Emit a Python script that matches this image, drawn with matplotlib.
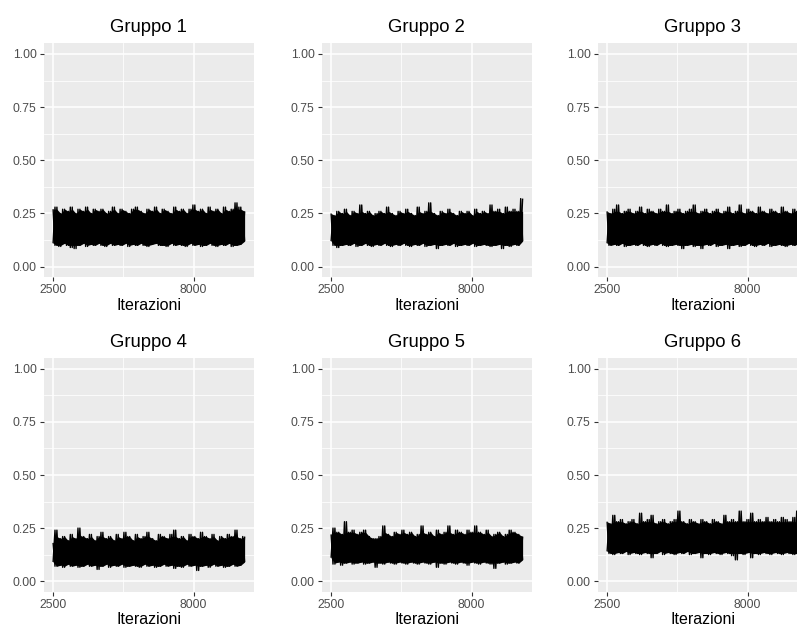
import numpy as np
import matplotlib
matplotlib.use("Agg")
import matplotlib.pyplot as plt

plt.rcParams['font.family'] = ['Liberation Sans', 'DejaVu Sans']

iterations = np.arange(2500, 10001, 150)

groups = ["Gruppo 1", "Gruppo 2", "Gruppo 3", "Gruppo 4", "Gruppo 5", "Gruppo 6"]

# upper / lower envelope of each MCMC trace
upper_1 = [0.27,0.28,0.25,0.27,0.26,0.28,0.25,0.27,0.26,0.28,
           0.25,0.27,0.26,0.27,0.25,0.26,0.28,0.25,0.27,0.26,
           0.25,0.27,0.28,0.26,0.25,0.27,0.26,0.28,0.25,0.27,
           0.26,0.25,0.28,0.26,0.27,0.25,0.27,0.29,0.26,0.27,
           0.25,0.28,0.26,0.27,0.25,0.28,0.26,0.27,0.30,0.28,0.26]
lower_1 = [0.11,0.10,0.095,0.11,0.10,0.09,0.085,0.10,0.11,0.095,
           0.105,0.10,0.11,0.10,0.095,0.11,0.10,0.105,0.10,0.11,
           0.095,0.105,0.10,0.11,0.10,0.095,0.105,0.11,0.10,0.10,
           0.095,0.11,0.10,0.105,0.10,0.095,0.11,0.10,0.105,0.095,
           0.10,0.11,0.10,0.095,0.105,0.10,0.11,0.095,0.10,0.105,0.12]

upper_2 = [0.25,0.24,0.26,0.25,0.27,0.24,0.26,0.25,0.29,0.25,
           0.26,0.24,0.25,0.26,0.25,0.28,0.25,0.24,0.26,0.25,
           0.27,0.25,0.24,0.28,0.25,0.26,0.30,0.25,0.24,0.26,
           0.25,0.27,0.25,0.24,0.26,0.25,0.26,0.24,0.27,0.25,
           0.26,0.25,0.29,0.26,0.27,0.25,0.28,0.26,0.27,0.26,0.32]
lower_2 = [0.12,0.10,0.09,0.10,0.105,0.10,0.11,0.095,0.10,0.11,
           0.10,0.095,0.105,0.10,0.11,0.10,0.095,0.105,0.10,0.11,
           0.10,0.095,0.105,0.10,0.11,0.095,0.10,0.105,0.085,0.10,
           0.105,0.10,0.11,0.095,0.10,0.105,0.10,0.11,0.095,0.10,
           0.105,0.10,0.095,0.10,0.105,0.085,0.10,0.095,0.105,0.10,0.12]

upper_3 = [0.26,0.25,0.27,0.29,0.25,0.26,0.27,0.25,0.26,0.28,
           0.25,0.27,0.26,0.25,0.27,0.26,0.29,0.25,0.26,0.27,
           0.25,0.26,0.27,0.29,0.25,0.26,0.27,0.25,0.26,0.27,
           0.25,0.26,0.28,0.25,0.26,0.29,0.25,0.27,0.26,0.25,
           0.28,0.26,0.25,0.27,0.26,0.25,0.28,0.26,0.25,0.27,0.26]
lower_3 = [0.11,0.10,0.105,0.10,0.11,0.095,0.10,0.105,0.10,0.11,
           0.10,0.095,0.105,0.10,0.11,0.10,0.095,0.10,0.105,0.10,
           0.085,0.10,0.105,0.095,0.10,0.085,0.105,0.10,0.11,0.095,
           0.10,0.105,0.085,0.10,0.105,0.095,0.10,0.11,0.10,0.095,
           0.105,0.10,0.11,0.095,0.10,0.105,0.10,0.095,0.105,0.10,0.11]

upper_4 = [0.18,0.24,0.20,0.21,0.19,0.22,0.20,0.25,0.21,0.20,
           0.22,0.19,0.21,0.23,0.20,0.21,0.19,0.22,0.20,0.23,
           0.21,0.19,0.22,0.20,0.21,0.23,0.20,0.19,0.22,0.21,
           0.20,0.22,0.24,0.20,0.21,0.19,0.22,0.21,0.20,0.23,
           0.21,0.20,0.22,0.19,0.21,0.20,0.22,0.21,0.24,0.20,0.21]
lower_4 = [0.09,0.07,0.075,0.065,0.08,0.07,0.075,0.065,0.07,0.08,
           0.07,0.075,0.055,0.07,0.08,0.065,0.075,0.07,0.08,0.065,
           0.07,0.075,0.07,0.065,0.08,0.07,0.075,0.065,0.07,0.08,
           0.07,0.075,0.06,0.07,0.065,0.08,0.07,0.075,0.05,0.07,
           0.075,0.065,0.08,0.07,0.075,0.065,0.07,0.08,0.07,0.075,0.09]

upper_5 = [0.22,0.25,0.23,0.22,0.28,0.23,0.24,0.22,0.23,0.24,
           0.21,0.20,0.20,0.21,0.26,0.22,0.21,0.23,0.22,0.24,
           0.22,0.23,0.21,0.22,0.26,0.22,0.23,0.21,0.24,0.22,
           0.23,0.26,0.22,0.24,0.23,0.22,0.24,0.23,0.26,0.23,
           0.22,0.24,0.21,0.22,0.23,0.21,0.22,0.24,0.23,0.22,0.21]
lower_5 = [0.11,0.08,0.09,0.075,0.085,0.09,0.08,0.085,0.09,0.08,
           0.085,0.09,0.065,0.085,0.08,0.09,0.085,0.08,0.09,0.085,
           0.08,0.09,0.085,0.08,0.09,0.085,0.08,0.09,0.065,0.085,
           0.08,0.09,0.085,0.08,0.09,0.085,0.075,0.09,0.085,0.08,
           0.09,0.085,0.08,0.06,0.085,0.09,0.08,0.085,0.09,0.085,0.10]

upper_6 = [0.28,0.27,0.31,0.28,0.29,0.27,0.28,0.29,0.27,0.32,
           0.28,0.29,0.31,0.27,0.28,0.29,0.27,0.28,0.29,0.33,
           0.28,0.27,0.29,0.28,0.27,0.29,0.28,0.27,0.29,0.28,
           0.27,0.31,0.28,0.29,0.28,0.33,0.28,0.29,0.32,0.28,
           0.29,0.28,0.30,0.28,0.29,0.28,0.30,0.29,0.28,0.30,0.33]
lower_6 = [0.14,0.13,0.125,0.135,0.13,0.14,0.125,0.135,0.13,0.125,
           0.135,0.13,0.11,0.13,0.14,0.125,0.135,0.13,0.125,0.135,
           0.13,0.14,0.125,0.13,0.135,0.11,0.13,0.125,0.135,0.13,
           0.125,0.135,0.13,0.12,0.10,0.13,0.125,0.135,0.11,0.13,
           0.125,0.135,0.13,0.125,0.135,0.13,0.125,0.135,0.13,0.125,0.13]

uppers = [upper_1, upper_2, upper_3, upper_4, upper_5, upper_6]
lowers = [lower_1, lower_2, lower_3, lower_4, lower_5, lower_6]

y_ticks = [0.0, 0.25, 0.5, 0.75, 1.0]
y_ticklabels = ["0.00", "0.25", "0.50", "0.75", "1.00"]
x_ticks = [2500, 8000]
x_ticklabels = ["2500", "8000"]

W, H = 797, 630
fig = plt.figure(figsize=(W / 100, H / 100), dpi=100)

cols = [(43.5, 254.2), (321.5, 532.2), (597.5, 808.2)]
rows = [(43.3, 277.3), (358.3, 591.7)]

def rect(x0, x1, yt, yb):
    return [x0 / W, 1 - yb / H, (x1 - x0) / W, (yb - yt) / H]

for k in range(6):
    r, c = divmod(k, 3)
    ax = fig.add_axes(rect(cols[c][0], cols[c][1], rows[r][0], rows[r][1]))
    ax.set_facecolor("#EBEBEB")
    for s in ax.spines.values():
        s.set_visible(False)
    ax.set_xlim(2125, 10375)
    ax.set_ylim(-0.05, 1.05)
    ax.set_xticks(x_ticks)
    ax.set_xticklabels(x_ticklabels)
    ax.set_xticks([5250], minor=True)
    ax.set_yticks(y_ticks)
    ax.set_yticklabels(y_ticklabels)
    ax.set_yticks([0.125, 0.375, 0.625, 0.875], minor=True)
    ax.grid(which="major", color="white", linewidth=1.1)
    ax.grid(which="minor", color="white", linewidth=0.55)
    ax.set_axisbelow(True)
    ax.tick_params(which="major", color="#333333", length=3, width=0.8,
                   labelcolor="#4D4D4D", labelsize=8.8, pad=2)
    ax.tick_params(which="minor", length=0)

    up = np.array(uppers[k])
    lo = np.array(lowers[k])
    # solid core of the trace
    core_top = np.minimum(up, np.median(up))
    core_bot = np.maximum(lo, np.median(lo))
    ax.fill_between(iterations, core_bot, core_top, color="black", linewidth=0)
    # trace drawn as lines swinging between the read upper / lower values
    n = len(iterations)
    for a, b in ((up, lo), (lo, up)):
        xs = np.empty(2 * n - 1)
        ys = np.empty(2 * n - 1)
        xs[0::2] = iterations
        xs[1::2] = iterations[:-1] + 75
        ys[0::2] = a
        ys[1::2] = b[1:]
        ax.plot(xs, ys, color="black", linewidth=1.0,
                solid_joinstyle="round", solid_capstyle="butt")

    ax.set_title(groups[k], fontsize=13.3, pad=8, color="black")
    ax.set_xlabel("Iterazioni", fontsize=11.5, labelpad=1, color="black")

fig.savefig("out.png", dpi=100)
